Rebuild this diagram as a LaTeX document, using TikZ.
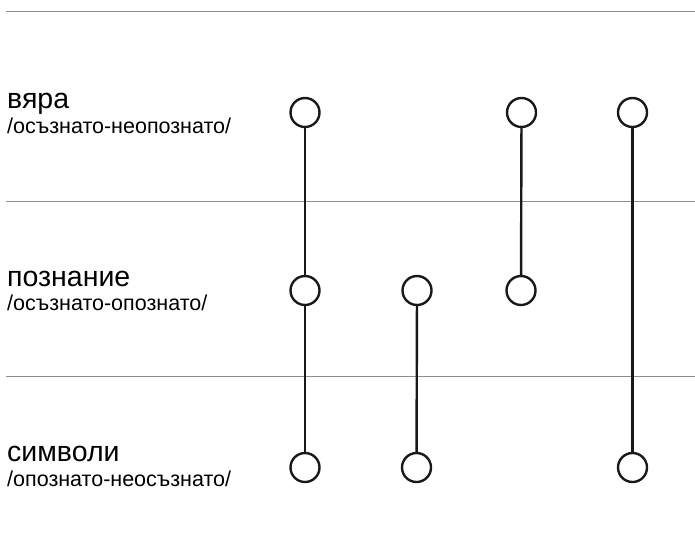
\documentclass[tikz,border=0pt]{standalone}
\usepackage{fontspec}
\setmainfont{Liberation Sans}
\begin{document}
\begin{tikzpicture}[x=1pt,y=-1pt,
  sep/.style={draw=black!45,line width=1pt},
  dot/.style={circle,draw=black!90,line width=2.4pt,minimum size=29pt,inner sep=0pt},
  link/.style={draw=black!90,line width=2.4pt},
  head/.style={anchor=base west,inner sep=0pt,font=\fontsize{28.5}{32}\selectfont},
  sub/.style={anchor=base west,inner sep=0pt,font=\fontsize{21.5}{25}\selectfont}]
\useasboundingbox (0,0) rectangle (695,557);
\coordinate (l1a) at (6,11); \coordinate (l1b) at (695,11);
\coordinate (l2a) at (6,201); \coordinate (l2b) at (695,201);
\coordinate (l3a) at (6,376); \coordinate (l3b) at (695,376);
\draw[sep] (l1a) -- (l1b);
\draw[sep] (l2a) -- (l2b);
\draw[sep] (l3a) -- (l3b);
\node[head] (h1) at (7,108) {вяра};
\node[sub] (s1) at (7,133) {/осъзнато-неопознато/};
\node[head] (h2) at (7,286.5) {познание};
\node[sub] (s2) at (7,310) {/осъзнато-опознато/};
\node[head] (h3) at (7,461.5) {символи};
\node[sub] (s3) at (7,486.5) {/опознато-неосъзнато/};
\node[dot] (a1) at (305,112.5) {};
\node[dot] (c1) at (521.5,112.5) {};
\node[dot] (d1) at (632.5,112.5) {};
\node[dot] (a2) at (305,290.5) {};
\node[dot] (b2) at (417,290.5) {};
\node[dot] (c2) at (521,290.5) {};
\node[dot] (a3) at (305,467.5) {};
\node[dot] (b3) at (416.5,467.5) {};
\node[dot] (d3) at (632.5,467.5) {};
\draw[link] (a1) -- (a2);
\draw[link] (a2) -- (a3);
\draw[link] (c1) -- (c2);
\draw[link] (b2) -- (b3);
\draw[link] (d1) -- (d3);
\end{tikzpicture}
\end{document}
